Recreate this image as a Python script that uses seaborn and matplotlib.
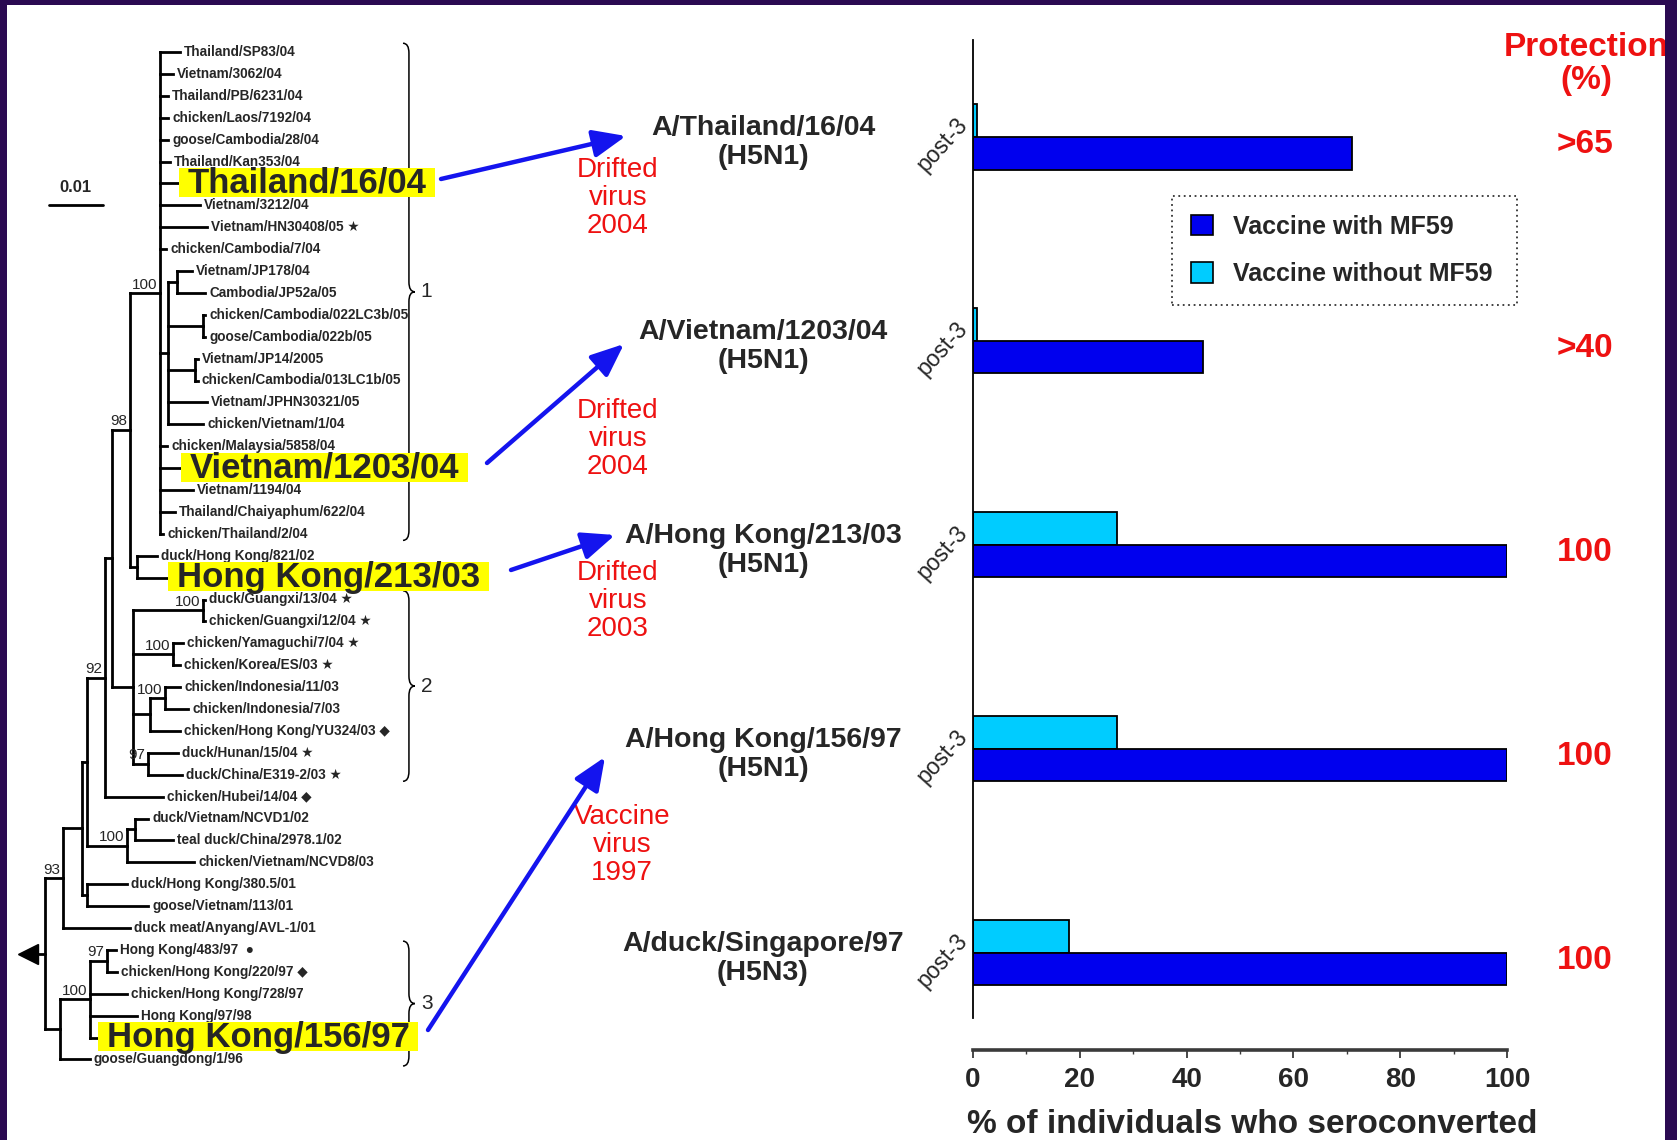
import matplotlib
matplotlib.use("Agg")
import matplotlib.pyplot as plt
import matplotlib.transforms as mtransforms
from matplotlib.collections import LineCollection
from matplotlib.patches import FancyArrowPatch, PathPatch, Patch, Rectangle
from matplotlib.path import Path
from matplotlib.ticker import MultipleLocator
import pandas as pd
import seaborn as sns

# ---------------------------------------------------------------- serology
strains = ["A/Thailand/16/04\n(H5N1)", "A/Vietnam/1203/04\n(H5N1)",
           "A/Hong Kong/213/03\n(H5N1)", "A/Hong Kong/156/97\n(H5N1)",
           "A/duck/Singapore/97\n(H5N3)"]
with_mf59 = [71, 43, 100, 100, 100]
without_mf59 = [0.7, 0.7, 27, 27, 18]
protection = [">65", ">40", "100", "100", "100"]
timepoint = "post-3"
groups = ["Vaccine with MF59", "Vaccine without MF59"]
virus_notes = ["Drifted\nvirus\n2004", "Drifted\nvirus\n2004",
               "Drifted\nvirus\n2003", "Vaccine\nvirus\n1997"]

# ------------------------------------------- H5 HA phylogeny (0.001 subst/site)
clade1_nwk = ("(Thailand/SP83/04:3.7,Vietnam/3062/04:2.4,Thailand/PB/6231/04:1.5,"
              "chicken/Laos/7192/04:1.5,goose/Cambodia/28/04:1.5,Thailand/Kan353/04:1.8,"
              "Thailand/16/04:3.3,Vietnam/3212/04:7.4,Vietnam/HN30408/05 ★:8.7,"
              "chicken/Cambodia/7/04:1.1,"
              "((Vietnam/JP178/04:2.8,Cambodia/JP52a/05:5.2):1.6,"
              "(chicken/Cambodia/022LC3b/05:0.3,goose/Cambodia/022b/05:0.3):6.5,"
              "(Vietnam/JP14/2005:0.5,chicken/Cambodia/013LC1b/05:0.5):5.0,"
              "Vietnam/JPHN30321/05:7.2,chicken/Vietnam/1/04:6.5):1.5,"
              "chicken/Malaysia/5858/04:1.3,Vietnam/1203/04:3.7,Vietnam/1194/04:6.1,"
              "Thailand/Chaiyaphum/622/04:2.8,chicken/Thailand/2/04:0.6)100:5.6")
clade2_nwk = ("((duck/Guangxi/13/04 ★:0.3,chicken/Guangxi/12/04 ★:0.3)100:13.0,"
              "(chicken/Yamaguchi/7/04 ★:1.9,chicken/Korea/ES/03 ★:1.3)100:7.4,"
              "((chicken/Indonesia/11/03:2.8,chicken/Indonesia/7/03:4.3)100:2.8,"
              "chicken/Hong Kong/YU324/03 ◆:5.6):3.1,"
              "(duck/Hunan/15/04 ★:5.5,duck/China/E319-2/03 ★:6.3)97:2.8):3.9")
clade3_nwk = ("(((Hong Kong/483/97  ●:1.6,chicken/Hong Kong/220/97 ◆:1.8)97:3.2,"
              "chicken/Hong Kong/728/97:6.9,Hong Kong/97/98:8.7,Hong Kong/156/97:1.3)100:5.5,"
              "goose/Guangdong/1/96:5.5):2.8")
other_nwk = ("((((((" + clade1_nwk + ",(duck/Hong Kong/821/02:3.7,Hong Kong/213/03:5.6):1.3)98:3.3,"
             + clade2_nwk + "):1.3,chicken/Hubei/14/04 ◆:10.8)92:3.3,"
             "((duck/Vietnam/NCVD1/02:2.4,teal duck/China/2978.1/02:7.0):1.5,"
             "chicken/Vietnam/NCVD8/03:12.4)100:7.4):0.9,"
             "(duck/Hong Kong/380.5/01:7.4,goose/Vietnam/113/01:11.3):0.9):3.6,"
             "duck meat/Anyang/AVL-1/01:12.4)93:3.3")
newick = "(" + other_nwk + "," + clade3_nwk + ");"

highlighted = ["Thailand/16/04", "Vietnam/1203/04", "Hong Kong/213/03", "Hong Kong/156/97"]
clade_spans = [("1", "Thailand/SP83/04", "chicken/Thailand/2/04"),
               ("2", "duck/Guangxi/13/04 ★", "duck/China/E319-2/03 ★"),
               ("3", "Hong Kong/483/97  ●", "goose/Guangdong/1/96")]
scale_bar = 10.0  # 0.01 substitutions/site

BLUE, CYAN, RED, ARROW = "#0000ee", "#00ccff", "#ee1111", "#1414ee"
palette = {groups[0]: BLUE, groups[1]: CYAN}


def parse_newick(s):
    pos = 0

    def node():
        nonlocal pos
        kids = []
        if s[pos] == "(":
            pos += 1
            while True:
                kids.append(node())
                if s[pos] == ",":
                    pos += 1
                else:
                    break
            pos += 1
        start = pos
        while s[pos] not in ":,);":
            pos += 1
        label = s[start:pos].strip()
        length = 0.0
        if s[pos] == ":":
            pos += 1
            start = pos
            while s[pos] not in ",);":
                pos += 1
            length = float(s[start:pos])
        return {"label": label, "length": length, "children": kids}

    return node()


def place(n, depth, leaves):
    n["x"] = depth + n["length"]
    if n["children"]:
        for c in n["children"]:
            place(c, n["x"], leaves)
        n["y"] = 0.5 * (n["children"][0]["y"] + n["children"][-1]["y"])
    else:
        n["y"] = len(leaves)
        leaves.append(n)


def branches(n, segs, support):
    if not n["children"]:
        return
    ys = [c["y"] for c in n["children"]]
    segs.append([(n["x"], min(ys)), (n["x"], max(ys))])
    for c in n["children"]:
        segs.append([(n["x"], c["y"]), (c["x"], c["y"])])
        if c["children"] and c["label"]:
            support.append((c["label"], c["x"], c["y"]))
        branches(c, segs, support)


def highlight_box(x0, y0, width, height, mutation_size):
    px = 0.25 * mutation_size
    lo = y0 + 0.08 * mutation_size
    hi = y0 + height - 0.04 * mutation_size
    return Path([(x0 - px, lo), (x0 + width + px, lo), (x0 + width + px, hi),
                 (x0 - px, hi), (x0 - px, lo)], closed=True)


def brace(x0, top, bottom, w):
    mid = 0.5 * (top + bottom)
    r = 0.45
    xm = x0 + w * 0.5
    verts = [(x0, top), (xm, top), (xm, top + r), (xm, mid - r), (xm, mid), (x0 + w, mid),
             (xm, mid), (xm, mid + r), (xm, bottom - r), (xm, bottom), (x0, bottom)]
    codes = [Path.MOVETO, Path.CURVE3, Path.CURVE3, Path.LINETO, Path.CURVE3, Path.CURVE3,
             Path.CURVE3, Path.CURVE3, Path.LINETO, Path.CURVE3, Path.CURVE3]
    return Path(verts, codes)


sns.set_style("ticks")
plt.rcParams["font.family"] = ["Liberation Sans", "DejaVu Sans"]

W, H = 1677, 1140
fig = plt.figure(figsize=(W / 100, H / 100), dpi=100)
fig.patch.set_facecolor("white")


def shifted(base, dy_px):
    """Move a transform down by dy_px pixels."""
    return base + mtransforms.ScaledTranslation(0, -dy_px / 100, fig.dpi_scale_trans)


# ---------------------------------------------------------------- tree panel
tree = parse_newick(newick)
leaves = []
place(tree, 0.0, leaves)
segs, support = [], []
branches(tree, segs, support)

ux, root_px = 5.4, 45.0           # pixels per 0.001 subst/site, root position
row0, drow = 52.0, 21.9           # first tip row and row pitch (pixels)
ax_t = fig.add_axes([0, 0, 470 / W, 1])
ax_t.set_xlim(-root_px / ux, (470 - root_px) / ux)
ax_t.set_ylim((H - row0) / drow, -row0 / drow)
ax_t.axis("off")

ax_t.add_collection(LineCollection(segs, colors="black", linewidths=2.0,
                                   capstyle="projecting"))
for lab, x, y in support:
    ax_t.annotate(lab, (x, y), xytext=(-2, 1), textcoords="offset points",
                  ha="right", va="bottom", fontsize=11)

for leaf in leaves:
    name = leaf["label"]
    if name in highlighted:
        ax_t.annotate(name, (leaf["x"], leaf["y"]), xytext=(7, 0), textcoords="offset points",
                      ha="left", va="center", fontsize=25, fontweight="bold", zorder=4,
                      bbox=dict(boxstyle=highlight_box, facecolor="#ffff00", edgecolor="none"))
    else:
        ax_t.annotate(name, (leaf["x"], leaf["y"]), xytext=(3, 0), textcoords="offset points",
                      ha="left", va="center", fontsize=9.8, fontweight="bold")

# root marker
ax_t.plot([tree["x"] - 1.4, tree["x"]], [tree["y"], tree["y"]], color="black", lw=2)
ax_t.plot(tree["x"] - 3.2, tree["y"], marker="<", ms=14, color="black")

# scale bar
ax_t.plot([0.7, 0.7 + scale_bar], [7.0, 7.0], color="black", lw=2)
ax_t.text(0.7 + scale_bar / 2, 6.55, "0.01", ha="center", va="bottom", fontsize=12,
          fontweight="bold")

# clade braces
index = {lf["label"]: lf["y"] for lf in leaves}
bx = (403 - root_px) / ux
for num, first, last in clade_spans:
    p = brace(bx, index[first] - 0.4, index[last] + 0.3, 2.2)
    ax_t.add_patch(PathPatch(p, facecolor="none", edgecolor="black", lw=1.1))
    ax_t.text(bx + 3.3, 0.5 * (index[first] + index[last]) - 0.05, num,
              ha="left", va="center", fontsize=15)

# ---------------------------------------------------------------- bar panel
df = pd.DataFrame({
    "strain": strains * 2,
    "pct": with_mf59 + without_mf59,
    "vaccine": [groups[0]] * len(strains) + [groups[1]] * len(strains),
})
ax = fig.add_axes([973 / W, 1 - 1018 / H, 534 / W, 978 / H])
sns.barplot(data=df, y="strain", x="pct", hue="vaccine", order=strains,
            hue_order=[groups[1], groups[0]], palette=palette, orient="h",
            width=0.32, saturation=1, edgecolor="black", linewidth=1.3,
            errorbar=None, legend=False, ax=ax)
ax.set_xlim(0, 100)
ax.set_ylim(4.32, -0.475)
sns.despine(ax=ax, offset={"bottom": 23})
ax.spines["left"].set_linewidth(1.3)
ax.spines["left"].set_color("black")
ax.spines["bottom"].set_linewidth(2.6)
ax.spines["bottom"].set_color("#3a3a3a")

ax.set_xticks(range(0, 101, 20))
ax.xaxis.set_minor_locator(MultipleLocator(10))
ax.tick_params(axis="x", which="major", length=6, width=1.3, pad=6, labelsize=20,
               color="#3a3a3a")
ax.tick_params(axis="x", which="minor", length=3, width=1.0, color="#3a3a3a")
for lab in ax.get_xticklabels():
    lab.set_fontweight("bold")
ax.set_xlabel("% of individuals who seroconverted", fontsize=24, fontweight="bold",
              labelpad=12)
ax.xaxis.label.set_x(0.522)
ax.set_ylabel("")
ax.set_yticks(range(len(strains)))
ax.set_yticklabels([timepoint] * len(strains), rotation=48, ha="center", va="top",
                   rotation_mode="anchor", fontsize=16.5)
ax.tick_params(axis="y", length=0, pad=28)

# strain names, virus notes and protection values
row_trans = mtransforms.blended_transform_factory(fig.transFigure, ax.transData)
for i, s in enumerate(strains):
    ax.text(763 / W, i, s, transform=shifted(row_trans, 6), ha="center", va="center",
            fontsize=20.5, fontweight="bold", linespacing=1.15)
    ax.text(1585 / W, i, protection[i], transform=shifted(row_trans, 8), ha="center",
            va="center", fontsize=24, fontweight="bold", color=RED)

note_pos = [(618, 198), (618, 439), (618, 601), (622, 845)]
for (x, y), note in zip(note_pos, virus_notes):
    fig.text(x / W, 1 - y / H, note, ha="center", va="center", fontsize=20, color=RED,
             linespacing=1.08)

fig.text(1586 / W, 1 - 64 / H, "Protection\n(%)", ha="center", va="center", fontsize=24,
         fontweight="bold", color=RED, linespacing=1.08)

# arrows from the tree to the test strains
arrow_ends = [((441, 179), (626, 136)), ((487, 463), (624, 344)),
              ((511, 570), (615, 535)), ((428, 1030), (605, 757))]
for (x1, y1), (x2, y2) in arrow_ends:
    fig.add_artist(FancyArrowPatch((x1 / W, 1 - y1 / H), (x2 / W, 1 - y2 / H),
                                   transform=fig.transFigure,
                                   arrowstyle="-|>,head_length=1.0,head_width=0.42",
                                   mutation_scale=20, lw=3.2, color=ARROW,
                                   shrinkA=0, shrinkB=0, zorder=5))

# legend
handles = [Patch(facecolor=palette[g], edgecolor="black", linewidth=1.2, label=g)
           for g in groups]
leg = ax.legend(handles=handles, loc="upper left",
                bbox_to_anchor=(1172 / W, 1 - 300 / H, 345 / W, 104 / H),
                bbox_transform=fig.transFigure, mode="expand", frameon=True,
                fancybox=False, prop={"weight": "bold", "size": 18}, handlelength=0.9,
                handleheight=0.9, handletextpad=0.8, labelspacing=0.95, borderpad=0.75,
                borderaxespad=0)
frame = leg.get_frame()
frame.set_linestyle((0, (1, 2)))
frame.set_edgecolor("black")
frame.set_linewidth(1.3)

# slide frame
for x, y, w, h in [(0, 0, 7, H), (0, 0, W, 5), (1665, 0, 12, H)]:
    fig.add_artist(Rectangle((x / W, 1 - (y + h) / H), w / W, h / H,
                             transform=fig.transFigure, facecolor="#2b0a52",
                             edgecolor="none", zorder=10))

fig.savefig("out.png", dpi=100, facecolor="white")
